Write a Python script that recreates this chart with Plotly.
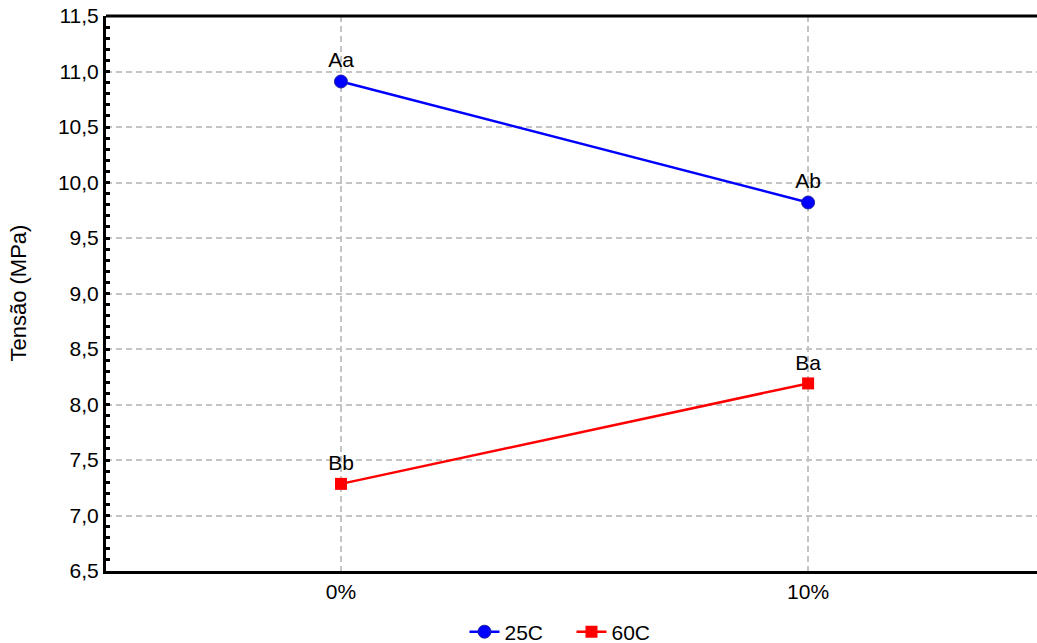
import plotly.graph_objects as go

categories = ["0%", "10%"]
s25_values = [10.91, 9.82]
s25_labels = ["Aa", "Ab"]
s60_values = [7.285, 8.19]
s60_labels = ["Bb", "Ba"]

FONT = "Liberation Sans, Arial"
FS = 21

fig = go.Figure()
fig.add_trace(go.Scatter(
    x=categories, y=s25_values, name="25C", mode="lines+markers+text",
    text=s25_labels, textposition="top center",
    textfont=dict(family=FONT, size=FS, color="black"),
    line=dict(color="#0000ff", width=2.5),
    marker=dict(symbol="circle", size=13, color="#0000ff", line=dict(color="#2020a0", width=1)),
))
fig.add_trace(go.Scatter(
    x=categories, y=s60_values, name="60C", mode="lines+markers+text",
    text=s60_labels, textposition="top center",
    textfont=dict(family=FONT, size=FS, color="black"),
    line=dict(color="#ff0000", width=2.5),
    marker=dict(symbol="square", size=12, color="#ff0000"),
))

fig.update_layout(
    width=1037, height=643,
    margin=dict(l=106, r=0, t=16, b=72, autoexpand=False),
    paper_bgcolor="white", plot_bgcolor="white",
    separators=",.",
    font=dict(family=FONT, size=FS, color="black"),
    showlegend=True,
    legend=dict(orientation="h", x=0.5, xanchor="center", y=-0.11, yanchor="middle",
                font=dict(size=FS), entrywidth=62, entrywidthmode="pixels"),
    shapes=[dict(type="line", xref="paper", yref="paper", x0=0, x1=1, y0=1, y1=1,
                 line=dict(color="black", width=3))],
    annotations=[dict(text="Tensão (MPa)", xref="paper", yref="paper", x=-0.0945, y=0.5,
                      xanchor="center", yanchor="middle", textangle=-90, showarrow=False,
                      font=dict(size=22))],
)
fig.update_xaxes(
    type="category", range=[-0.503, 1.49], automargin=False,
    showgrid=True, gridcolor="#c4c4c4", griddash="6px,4px", gridwidth=2,
    showline=True, linecolor="black", linewidth=3, mirror=False,
    ticks="", tickfont=dict(size=FS), zeroline=False,
)
fig.update_yaxes(
    range=[6.5, 11.5], dtick=0.5, tick0=6.5, tickformat=".1f", automargin=False,
    showgrid=True, gridcolor="#c4c4c4", griddash="6px,4px", gridwidth=2,
    showline=True, linecolor="black", linewidth=3, mirror=False,
    ticks="inside", ticklen=4, tickwidth=2.5, tickcolor="black",
    minor=dict(dtick=0.1, ticks="inside", ticklen=4, tickwidth=2.5, tickcolor="black", showgrid=False),
    tickfont=dict(size=FS), zeroline=False,
)

fig.write_html(
    "out.html",
    config={"displayModeBar": False},
    post_script="document.body.style.margin='0';document.body.style.padding='0';document.body.style.overflow='hidden';",
)
